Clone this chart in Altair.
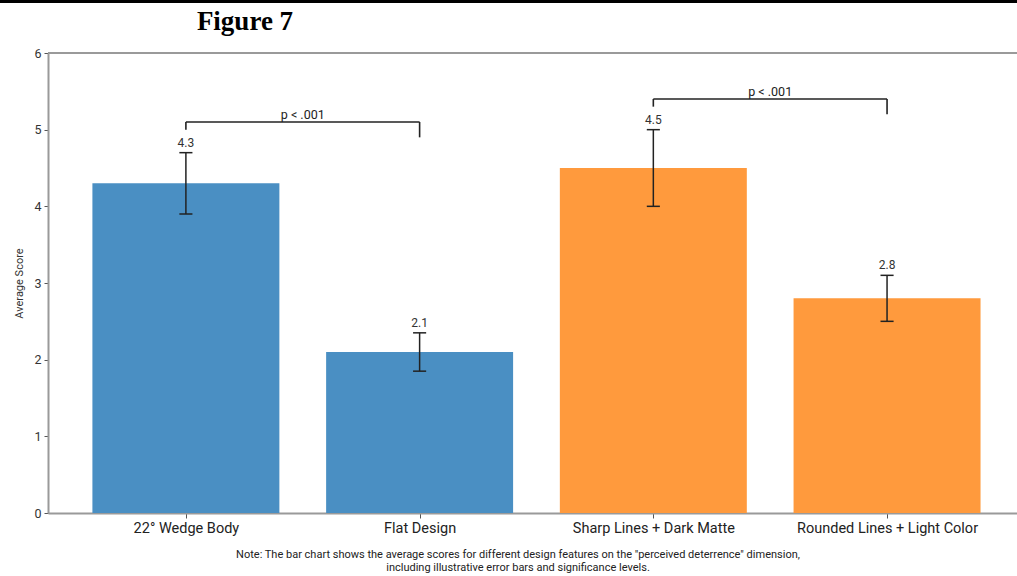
import json
import altair as alt
import pandas as pd

# ---- data ----
categories = ["22° Wedge Body", "Flat Design", "Sharp Lines + Dark Matte", "Rounded Lines + Light Color"]
means = [4.3, 2.1, 4.5, 2.8]
err_low = [3.9, 1.85, 4.0, 2.5]
err_high = [4.7, 2.35, 5.0, 3.1]
groups = ["A", "A", "B", "B"]
value_labels = ["4.3", "2.1", "4.5", "2.8"]

bracket_left = [0, 2]
bracket_right = [1, 3]
bracket_y = [5.1, 5.4]
bracket_left_bottom = [5.0, 5.3]
bracket_right_bottom = [4.9, 5.2]
bracket_text = ["p < .001", "p < .001"]

y_ticks = [0, 1, 2, 3, 4, 5, 6]
caption = [
    'Note: The bar chart shows the average scores for different design features on the "perceived deterrence" dimension,',
    "including illustrative error bars and significance levels.",
]

bars_df = pd.DataFrame({
    "pos": list(range(len(categories))),
    "category": categories,
    "mean": means,
    "lo": err_low,
    "hi": err_high,
    "group": groups,
    "label": value_labels,
})
br_df = pd.DataFrame({
    "x1": bracket_left,
    "x2": bracket_right,
    "y": bracket_y,
    "yl": bracket_left_bottom,
    "yr": bracket_right_bottom,
    "text": bracket_text,
})

XDOM = [-0.59, 3.556]
xscale = alt.Scale(domain=XDOM, nice=False, zero=False, padding=0)
yscale = alt.Scale(domain=[0, 6], nice=False, padding=0)
FONT = "Roboto"
GRAY = "#9a9a9a"
INK = "#222222"

label_expr = json.dumps(categories, ensure_ascii=False) + "[datum.value]"

base = alt.Chart(bars_df)

bars = base.transform_calculate(
    xa="datum.pos - 0.4", xb="datum.pos + 0.4"
).mark_bar(clip=False).encode(
    x=alt.X("xa:Q", scale=xscale, title=None,
            axis=alt.Axis(values=[0, 1, 2, 3], labelExpr=label_expr, grid=False,
                          domainColor=GRAY, domainWidth=2, tickColor="#555", tickSize=5,
                          tickWidth=1, labelFontSize=14.5, labelColor=INK, labelPadding=3,
                          labelFont=FONT, labelLimit=400)),
    x2="xb:Q",
    y=alt.Y("mean:Q", scale=yscale, title="Average Score",
            axis=alt.Axis(values=y_ticks, format="d", grid=False, domainColor=GRAY, domainWidth=2,
                          tickColor="#555", tickSize=4, labelFontSize=12.5, labelColor="#333",
                          labelPadding=3, titleFontSize=11, titleFontWeight="normal",
                          titleColor="#333", titlePadding=9, labelFont=FONT, titleFont=FONT)),
    y2=alt.datum(0),
    color=alt.Color("group:N", scale=alt.Scale(domain=["A", "B"], range=["#4a8fc3", "#ff9a3d"]),
                    legend=None),
)

top_spine = alt.Chart(pd.DataFrame({"y": [6]})).mark_rule(color=GRAY, strokeWidth=2).encode(
    y=alt.Y("y:Q", scale=yscale, title="Average Score"),
    x=alt.value(0), x2=alt.value(969),
)

err_rule = base.mark_rule(color=INK, strokeWidth=1.5).encode(
    x=alt.X("pos:Q", scale=xscale, title=None),
    y=alt.Y("lo:Q", scale=yscale, title="Average Score"),
    y2="hi:Q",
)
caps = base.transform_fold(["lo", "hi"], as_=["end", "yv"]).transform_calculate(
    ca="datum.pos - 0.028", cb="datum.pos + 0.028"
).mark_rule(color=INK, strokeWidth=1.5).encode(
    x=alt.X("ca:Q", scale=xscale, title=None), x2="cb:Q",
    y=alt.Y("yv:Q", scale=yscale, title="Average Score"),
)
val_text = base.mark_text(baseline="alphabetic", dy=-6, fontSize=12, color="#333", font=FONT).encode(
    x=alt.X("pos:Q", scale=xscale, title=None),
    y=alt.Y("hi:Q", scale=yscale, title="Average Score"),
    text="label:N",
)

brb = alt.Chart(br_df)
br_h = brb.mark_rule(color=INK, strokeWidth=1.6).encode(
    x=alt.X("x1:Q", scale=xscale, title=None), x2="x2:Q",
    y=alt.Y("y:Q", scale=yscale, title="Average Score"),
)
br_l = brb.mark_rule(color=INK, strokeWidth=1.6).encode(
    x=alt.X("x1:Q", scale=xscale, title=None),
    y=alt.Y("yl:Q", scale=yscale, title="Average Score"), y2="y:Q",
)
br_r = brb.mark_rule(color=INK, strokeWidth=1.6).encode(
    x=alt.X("x2:Q", scale=xscale, title=None),
    y=alt.Y("yr:Q", scale=yscale, title="Average Score"), y2="y:Q",
)
br_t = brb.transform_calculate(xm="(datum.x1 + datum.x2) / 2").mark_text(
    baseline="alphabetic", dy=-3, fontSize=12.5, color=INK, font=FONT
).encode(
    x=alt.X("xm:Q", scale=xscale, title=None),
    y=alt.Y("y:Q", scale=yscale, title="Average Score"),
    text="text:N",
)

one = pd.DataFrame({"k": [0]})
top_bar = alt.Chart(one).mark_rule(color="black", strokeWidth=3).encode(
    x=alt.value(-48), x2=alt.value(969), y=alt.value(-51.5),
)
fig_title = alt.Chart(one).mark_text(
    text="Figure 7", font="Liberation Serif", fontWeight="bold", fontSize=27,
    align="center", baseline="alphabetic", color="black",
).encode(x=alt.value(197), y=alt.value(-23))
cap_text = alt.Chart(one).mark_text(
    text=caption, font=FONT, fontSize=11, lineHeight=13, align="center",
    baseline="middle", color="#222",
).encode(x=alt.value(470), y=alt.value(502))

chart = alt.layer(
    bars, top_spine, err_rule, caps, val_text, br_h, br_l, br_r, br_t,
    top_bar, fig_title, cap_text,
).properties(
    width=969, height=460,
    autosize=alt.AutoSizeParams(type="none"),
    padding={"left": 48, "top": 53, "right": 0, "bottom": 63},
).configure_view(stroke=None).configure(background="white")

chart.save("out.html", embed_options={"renderer": "svg", "actions": False})
